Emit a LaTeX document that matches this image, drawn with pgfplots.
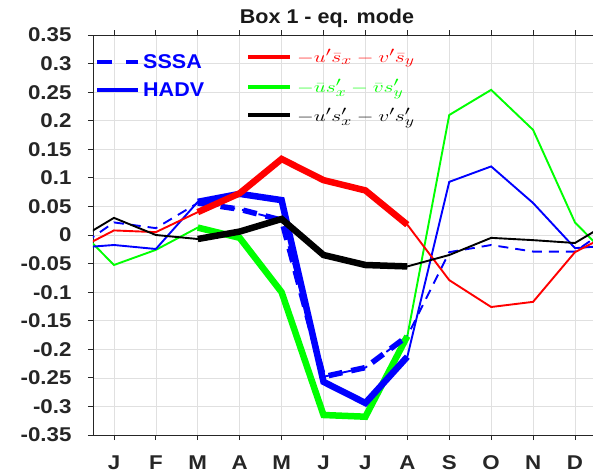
\documentclass[border=0pt]{standalone}
\usepackage{fontspec}
\setmainfont{Liberation Sans}
\newfontfamily\tickfont{Liberation Sans}[FakeStretch=1.12]
\newfontfamily\labfont{Liberation Sans}[FakeStretch=1.08]
\usepackage{graphicx}
\usepackage{pgfplots}
\pgfplotsset{compat=1.18}
\usepackage{pgfplotstable}

% monthly composites; row 0 repeats Dec and row 13 repeats Jan so the curves run to the frame
\pgfplotstableread{
m   sssa     hadv     red     green    black
0   -0.029   -0.023   -0.030   0.022   -0.014
1    0.022   -0.0175   0.008  -0.0525   0.030
2    0.012   -0.0245   0.005  -0.026    0.000
3    0.056    0.058    0.040   0.013   -0.007
4    0.045    0.072    0.073  -0.005    0.006
5    0.026    0.061    0.133  -0.100    0.028
6   -0.248   -0.257    0.096  -0.315   -0.035
7   -0.232   -0.294    0.078  -0.318   -0.0525
8   -0.177   -0.213    0.018  -0.177   -0.055
9   -0.030    0.093   -0.079   0.210   -0.035
10  -0.0175   0.120   -0.126   0.254   -0.005
11  -0.029    0.056   -0.117   0.184   -0.009
12  -0.029   -0.023   -0.030   0.022   -0.014
13   0.022   -0.0175   0.008  -0.0525   0.030
}\monthly

\definecolor{mblue}{rgb}{0,0,1}
\definecolor{mgreen}{rgb}{0,1,0}
\definecolor{mred}{rgb}{1,0,0}

\begin{document}
\begin{tikzpicture}
\path[use as bounding box] (-93bp,-38bp) rectangle (500bp,435bp);
\begin{axis}[
    scale only axis,
    width=500bp, height=400bp,
    at={(0,0)}, anchor=south west,
    xmin=0.5, xmax=12.43,
    ymin=-0.35, ymax=0.35,
    axis x line*=box, axis y line*=left,
    axis line style={black!85, line width=0.8bp},
    tick align=outside,
    major tick length=5bp,
    tick style={black!85, line width=0.8bp},
    xtick={1,...,12},
    xticklabels={J,F,M,A,M,J,J,A,S,O,N,D},
    ytick={-0.35,-0.3,-0.25,-0.2,-0.15,-0.1,-0.05,0,0.05,0.1,0.15,0.2,0.25,0.3,0.35},
    yticklabels={-0.35,-0.3,-0.25,-0.2,-0.15,-0.1,-0.05,0,0.05,0.1,0.15,0.2,0.25,0.3,0.35},
    ticklabel style={font=\tickfont\fontsize{20}{24}\selectfont\bfseries, text=black!85},
    xticklabel style={yshift=-12bp},
    yticklabel style={xshift=-13bp},
    grid=major,
    grid style={black!12, line width=0.6bp},
    clip=true,
]
% thin full-year lines
\addplot[mgreen, line width=1.9bp] table[x=m, y=green] {\monthly};
\addplot[mblue, line width=1.9bp, dash pattern=on 10bp off 7bp] table[x=m, y=sssa] {\monthly};
\addplot[mblue, line width=1.9bp] table[x=m, y=hadv] {\monthly};
\addplot[mred, line width=1.9bp] table[x=m, y=red] {\monthly};
\addplot[black, line width=1.9bp] table[x=m, y=black] {\monthly};
% thick: significant months (Mar-Aug)
\addplot[mgreen, line width=6.5bp, restrict x to domain=3:8] table[x=m, y=green] {\monthly};
\addplot[mblue, line width=5.5bp, dash pattern=on 14bp off 9bp, restrict x to domain=3:8] table[x=m, y=sssa] {\monthly};
\addplot[mblue, line width=6.5bp, restrict x to domain=3:8] table[x=m, y=hadv] {\monthly};
\addplot[mred, line width=6.5bp, restrict x to domain=3:8] table[x=m, y=red] {\monthly};
\addplot[black, line width=6.5bp, restrict x to domain=3:8] table[x=m, y=black] {\monthly};
\end{axis}

% title
\node[font=\labfont\fontsize{20}{24}\selectfont\bfseries, text=black!90] at (234bp,417bp) {Box 1 - eq. mode};

% left legend
\draw[mblue, line width=3.5bp, dash pattern=on 15bp off 14bp] (4bp,373bp) -- (45bp,373bp);
\node[anchor=west, inner sep=0pt, font=\labfont\fontsize{20}{24}\selectfont\bfseries, text=mblue] at (50bp,373bp) {SSSA};
\draw[mblue, line width=3.5bp] (4bp,345bp) -- (45bp,345bp);
\node[anchor=west, inner sep=0pt, font=\labfont\fontsize{20}{24}\selectfont\bfseries, text=mblue] at (50bp,345bp) {HADV};

% right legend
\draw[mred, line width=3.5bp] (155bp,378bp) -- (197bp,378bp);
\node[anchor=west, inner sep=0pt, font=\fontsize{19}{22}\selectfont, text=mred] at (204bp,377bp) {\scalebox{1.25}[0.92]{$-u'\bar{s}_x - v'\bar{s}_y$}};
\draw[mgreen, line width=3.5bp] (155bp,348bp) -- (197bp,348bp);
\node[anchor=west, inner sep=0pt, font=\fontsize{19}{22}\selectfont, text=mgreen] at (204bp,346bp) {\scalebox{1.25}[0.92]{$-\bar{u}s'_x - \bar{v}s'_y$}};
\draw[black, line width=3.5bp] (155bp,320bp) -- (197bp,320bp);
\node[anchor=west, inner sep=0pt, font=\fontsize{19}{22}\selectfont, text=black] at (204bp,317bp) {\scalebox{1.25}[0.92]{$-u's'_x - v's'_y$}};
\end{tikzpicture}
\end{document}
